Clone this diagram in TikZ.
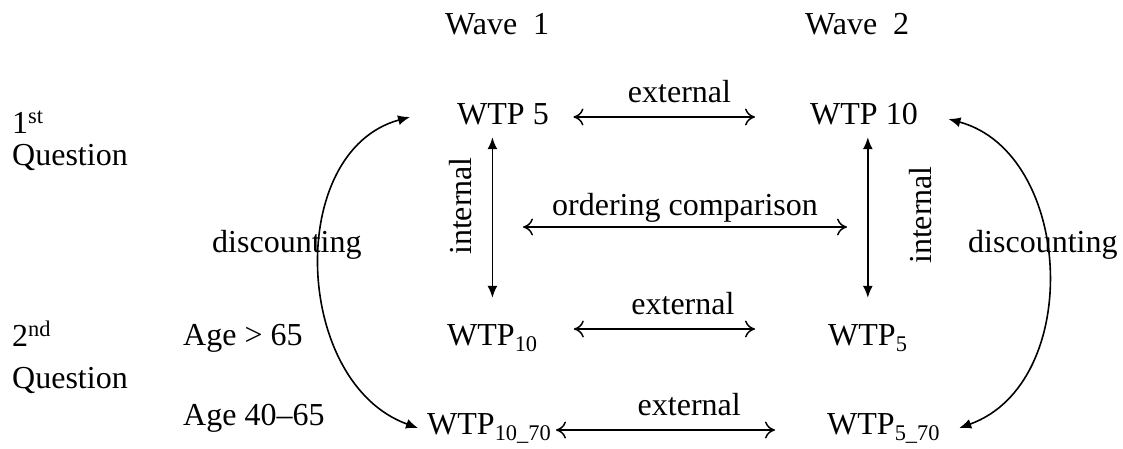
\documentclass[tikz,border=0pt]{standalone}
\usepackage{fontspec}
\setmainfont{Liberation Serif}
\usetikzlibrary{arrows.meta}
\begin{document}
\begin{tikzpicture}[x=1pt,y=-1pt,
  txt/.style={font=\fontsize{32}{38}\selectfont, inner sep=0pt},
  wtp/.style={txt, text height=21pt, text depth=0pt, anchor=west},
  lab/.style={txt, anchor=base},
  harrow/.style={line width=1.5pt, arrows={To[length=10pt,width=17pt]-To[length=10pt,width=17pt]}},
  varrow/.style={line width=1.7pt, arrows={Latex[length=12pt,width=10pt]-Latex[length=12pt,width=10pt]}},
  darrow/.style={line width=1.6pt, arrows={Latex[length=12pt,width=10pt]-Latex[length=12pt,width=10pt]}}]
\useasboundingbox (0,0) rectangle (1123,448);
% headers
\node[txt, anchor=base west] (wave1) at (445,34) {Wave~~1};
\node[txt, anchor=base west] (wave2) at (805,34) {Wave~~2};
\node[txt, anchor=base west] (q1num) at (12,133) {1\textsuperscript{st}};
\node[txt, anchor=base west] (q1) at (12,165) {Question};
\node[txt, anchor=base west] (q2num) at (12,346) {2\textsuperscript{nd}};
\node[txt, anchor=base west] (q2) at (12,388) {Question};
\node[txt, anchor=base west] (age1) at (183,345) {Age > 65};
\node[txt, anchor=base west] (age2) at (183,425) {Age 40--65};
\node[txt, anchor=base west] (discL) at (212,252) {discounting};
\node[txt, anchor=base west] (discR) at (968,252) {discounting};
% WTP nodes
\node[wtp] (wtp5) at (457,114) {WTP 5};
\node[wtp] (wtp10) at (810,114) {WTP 10};
\node[wtp] (wtp10n) at (447,335) {WTP\textsubscript{10}};
\node[wtp] (wtp5n) at (828,335) {WTP\textsubscript{5}};
\node[wtp] (wtp1070) at (427,424) {WTP\textsubscript{10\_70}};
\node[wtp] (wtp570) at (827,424) {WTP\textsubscript{5\_70}};
% internal labels
\node[lab, rotate=90] (intL) at (471,206) {internal};
\node[lab, rotate=90] (intR) at (931,215) {internal};
% external arrows
\draw[harrow, shorten <=24.5pt, shorten >=55pt] ([yshift=-3pt]wtp5.east) -- ([yshift=-3pt]wtp10.west)
  node[lab, midway, yshift=15pt] (extT) {external};
\draw[harrow, shorten <=36pt, shorten >=73pt] ([yshift=6pt]wtp10n.east) -- ([yshift=6pt]wtp5n.west)
  node[lab, midway, yshift=15pt] (extM) {external};
\draw[harrow, shorten <=4.5pt, shorten >=52pt] ([yshift=-6pt]wtp1070.east) -- ([yshift=-6pt]wtp570.west)
  node[lab, midway, yshift=15pt] (extB) {external};
% ordering comparison
\coordinate (oL) at (523,227);
\coordinate (oR) at (847,227);
\draw[harrow] (oL) -- (oR) node[lab, midway, yshift=12pt] (ord) {ordering comparison};
% internal arrows
\draw[varrow, shorten <=12.5pt, shorten >=26.5pt] (wtp10n.north |- wtp5.south) -- (wtp10n.north);
\draw[varrow, shorten <=12.5pt, shorten >=26.5pt] (wtp5n.north |- wtp10.south) -- (wtp5n.north);
% discounting arcs
\draw[darrow] ([xshift=-47pt,yshift=-3pt]wtp5.west) .. controls +(-125,34) and +(-125,-45) .. ([xshift=-9pt,yshift=-4pt]wtp1070.west);
\draw[darrow] ([xshift=30.5pt,yshift=-5pt]wtp10.east) .. controls +(125,34) and +(125,-45) .. ([xshift=19pt,yshift=-4pt]wtp570.east);
\end{tikzpicture}
\end{document}
